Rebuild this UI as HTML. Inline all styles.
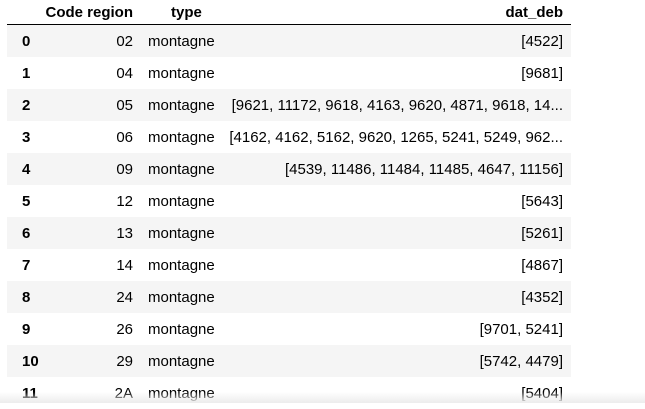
<!DOCTYPE html>
<html><head><meta charset="utf-8"><style>
body{margin:0;width:645px;height:403px;overflow:hidden;background:#fff;font-family:"Liberation Sans",Arial,sans-serif;font-size:15px;color:#000;position:relative}
table{position:absolute;left:7px;top:0;border-collapse:collapse;width:564px;table-layout:fixed}
th,td{padding:0;white-space:nowrap}
td{height:31px;overflow:hidden;padding-top:1px}
thead th{height:24px;font-weight:bold;text-align:right;border-bottom:1px solid #000;vertical-align:middle;overflow:visible}
tbody tr:nth-child(odd){background:#f5f5f5}
td.i{font-weight:bold;text-align:left;padding-left:15px}
td.c{text-align:right}
td.t{text-align:left;padding-left:15px}
td.d{text-align:right;padding-right:8px}
.sh{position:absolute;left:0;top:392px;width:645px;height:11px;background:linear-gradient(#fff0,#ececec)}
</style></head><body>
<table>
<colgroup><col style="width:38px"><col style="width:88px"><col style="width:90px"><col></colgroup>
<thead><tr><th></th><th>Code region</th><th style="text-align:left;padding-left:38px">type</th><th style="padding-right:8px">dat_deb</th></tr></thead>
<tbody>
<tr><td class="i">0</td><td class="c">02</td><td class="t">montagne</td><td class="d">[4522]</td></tr>
<tr><td class="i">1</td><td class="c">04</td><td class="t">montagne</td><td class="d">[9681]</td></tr>
<tr><td class="i">2</td><td class="c">05</td><td class="t">montagne</td><td class="d">[9621, 11172, 9618, 4163, 9620, 4871, 9618, 14...</td></tr>
<tr><td class="i">3</td><td class="c">06</td><td class="t">montagne</td><td class="d">[4162, 4162, 5162, 9620, 1265, 5241, 5249, 962...</td></tr>
<tr><td class="i">4</td><td class="c">09</td><td class="t">montagne</td><td class="d">[4539, 11486, 11484, 11485, 4647, 11156]</td></tr>
<tr><td class="i">5</td><td class="c">12</td><td class="t">montagne</td><td class="d">[5643]</td></tr>
<tr><td class="i">6</td><td class="c">13</td><td class="t">montagne</td><td class="d">[5261]</td></tr>
<tr><td class="i">7</td><td class="c">14</td><td class="t">montagne</td><td class="d">[4867]</td></tr>
<tr><td class="i">8</td><td class="c">24</td><td class="t">montagne</td><td class="d">[4352]</td></tr>
<tr><td class="i">9</td><td class="c">26</td><td class="t">montagne</td><td class="d">[9701, 5241]</td></tr>
<tr><td class="i">10</td><td class="c">29</td><td class="t">montagne</td><td class="d">[5742, 4479]</td></tr>
<tr><td class="i">11</td><td class="c">2A</td><td class="t">montagne</td><td class="d">[5404]</td></tr>
</tbody></table>
<div class="sh"></div>
</body></html>
